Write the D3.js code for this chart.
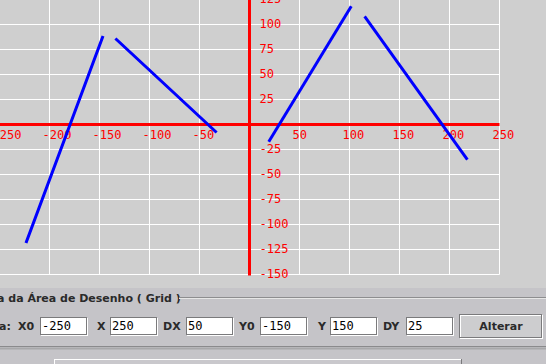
<!DOCTYPE html>
<html>
<head>
<meta charset="utf-8">
<script src="https://cdn.jsdelivr.net/npm/d3@7/dist/d3.min.js"></script>
<style>
	body { margin: 0; overflow: hidden; background: #c5c4c8; }
	svg { display: block; }
	.tick_label { font-family: "DejaVu Sans Mono", monospace; font-size: 12px; fill: #ff0000; }
	.form_label { font-family: "DejaVu Sans", sans-serif; font-weight: bold; font-size: 11px; fill: #2a2a2a; }
	.field_text { font-family: "DejaVu Sans Mono", monospace; font-size: 12px; fill: #000; }
</style>
</head>
<body>
<div id="frame"></div>
<script>
//grid settings (same values that are shown in the form fields)
var x_ticks = [-250, -200, -150, -100, -50, 0, 50, 100, 150, 200, 250];
var y_ticks = [-150, -125, -100, -75, -50, -25, 0, 25, 50, 75, 100, 125, 150];

//segments drawn on the grid
var seg_x1 = [-223, -133, 20, 116];
var seg_y1 = [-117, 85, -16, 107];
var seg_x2 = [-147, -34, 101, 217];
var seg_y2 = [87, -7, 117, -34];

//form row
var field_labels = ["X0", "X", "DX", "Y0", "Y", "DY"];
var field_values = ["-250", "250", "50", "-150", "150", "25"];

var width = 546, height = 364;

var svg = d3.select("#frame").append("svg")
	.attr("width", width)
	.attr("height", height);

//drawing area background
svg.append("rect")
	.attr("x", 0).attr("y", 0)
	.attr("width", width).attr("height", 288)
	.attr("fill", "#cfcfcf");

//panel below it
svg.append("rect")
	.attr("x", 0).attr("y", 288)
	.attr("width", width).attr("height", height - 288)
	.attr("fill", "#c5c4c8");

var x = d3.scaleLinear().domain([-250, 250]).range([-0.5, 499.5]);
var y = d3.scaleLinear().domain([-150, 150]).range([274.5, -25.5]);

var grid = svg.append("g").attr("class", "layer_grid");

grid.selectAll(".vline")
	.data(x_ticks.filter(function(d){ return d != 0; }))
	.enter()
		.append("line")
			.attr("x1", function(d){ return x(d); })
			.attr("x2", function(d){ return x(d); })
			.attr("y1", y(150))
			.attr("y2", y(-150))
			.attr("stroke", "#ffffff")
			.attr("stroke-width", 1);

grid.selectAll(".hline")
	.data(y_ticks.filter(function(d){ return d != 0; }))
	.enter()
		.append("line")
			.attr("x1", x(-250))
			.attr("x2", x(250))
			.attr("y1", function(d){ return y(d); })
			.attr("y2", function(d){ return y(d); })
			.attr("stroke", "#ffffff")
			.attr("stroke-width", 1);

//red axes through the origin
var axes = svg.append("g").attr("class", "layer_axes");

axes.append("line")
	.attr("x1", x(-250)).attr("x2", x(250))
	.attr("y1", y(0)).attr("y2", y(0))
	.attr("stroke", "#ff0000")
	.attr("stroke-width", 3);

axes.append("line")
	.attr("x1", x(0)).attr("x2", x(0))
	.attr("y1", y(150)).attr("y2", y(-150) + 1)
	.attr("stroke", "#ff0000")
	.attr("stroke-width", 3);

axes.selectAll(".xlabel")
	.data(x_ticks.filter(function(d){ return d != 0; }))
	.enter()
		.append("text")
			.attr("class", "tick_label")
			.attr("x", function(d){ return x(d) - 7; })
			.attr("y", y(0) + 14)
			.text(function(d){ return d; });

axes.selectAll(".ylabel")
	.data(y_ticks.filter(function(d){ return d != 0; }))
	.enter()
		.append("text")
			.attr("class", "tick_label")
			.attr("x", x(0) + 10)
			.attr("y", function(d){ return y(d) + 3; })
			.text(function(d){ return d; });

//blue segments on top
svg.append("g").attr("class", "layer_segments")
	.selectAll("line")
	.data(d3.range(seg_x1.length))
	.enter()
		.append("line")
			.attr("x1", function(i){ return x(seg_x1[i]); })
			.attr("y1", function(i){ return y(seg_y1[i]); })
			.attr("x2", function(i){ return x(seg_x2[i]); })
			.attr("y2", function(i){ return y(seg_y2[i]); })
			.attr("stroke", "#0000ff")
			.attr("stroke-width", 3)
			.attr("stroke-linecap", "square");

//titled border of the form
var form = svg.append("g").attr("class", "layer_form");

form.append("text")
	.attr("class", "form_label")
	.attr("x", -3)
	.attr("y", 302)
	.text("a da Área de Desenho ( Grid )");

form.append("line")
	.attr("x1", 179).attr("x2", width)
	.attr("y1", 297.5).attr("y2", 297.5)
	.attr("stroke", "#8d8d8f");
form.append("line")
	.attr("x1", 179).attr("x2", width)
	.attr("y1", 298.5).attr("y2", 298.5)
	.attr("stroke", "#e6e6e6");

form.append("text")
	.attr("class", "form_label")
	.attr("x", -1)
	.attr("y", 330)
	.text("a:");

//positions of labels and fields along the row
var label_x = [18, 97, 163, 239, 318, 383];
var field_x = [40, 110, 186, 260, 330, 406];
var field_w = 48, field_h = 19, field_y = 317;

form.selectAll(".flabel")
	.data(field_labels)
	.enter()
		.append("text")
			.attr("class", "form_label")
			.attr("x", function(d, i){ return label_x[i]; })
			.attr("y", 330)
			.text(function(d){ return d; });

var fields = form.selectAll(".field")
	.data(field_values)
	.enter()
		.append("g")
			.attr("transform", function(d, i){ return "translate(" + field_x[i] + "," + field_y + ")"; });

//flush 3d border: white outline shifted by one, dark outline on top
fields.append("rect")
	.attr("x", 1.5).attr("y", 1.5)
	.attr("width", field_w - 2).attr("height", field_h - 2)
	.attr("fill", "#ffffff")
	.attr("stroke", "#ffffff");
fields.append("rect")
	.attr("x", 0.5).attr("y", 0.5)
	.attr("width", field_w - 2).attr("height", field_h - 2)
	.attr("fill", "none")
	.attr("stroke", "#7a7a7c");
fields.append("text")
	.attr("class", "field_text")
	.attr("x", 2)
	.attr("y", 13)
	.text(function(d){ return d; });

//button
var button = form.append("g").attr("transform", "translate(459,314)");
button.append("rect")
	.attr("x", 1.5).attr("y", 1.5)
	.attr("width", 82).attr("height", 23)
	.attr("fill", "#cdcdcf")
	.attr("stroke", "#ffffff");
button.append("rect")
	.attr("x", 0.5).attr("y", 0.5)
	.attr("width", 82).attr("height", 23)
	.attr("fill", "none")
	.attr("stroke", "#7a7a7c");
button.append("text")
	.attr("class", "form_label")
	.attr("x", 42)
	.attr("y", 16)
	.attr("text-anchor", "middle")
	.text("Alterar");

//separator and the box below
form.append("line")
	.attr("x1", 0).attr("x2", width)
	.attr("y1", 346.5).attr("y2", 346.5)
	.attr("stroke", "#8a8a8c");
form.append("line")
	.attr("x1", 0).attr("x2", width)
	.attr("y1", 348.5).attr("y2", 348.5)
	.attr("stroke", "#a8a8aa")
	.attr("stroke-width", 2);

form.append("rect")
	.attr("x", 54.5).attr("y", 359.5)
	.attr("width", 407).attr("height", 10)
	.attr("fill", "#c9c8cc")
	.attr("stroke", "#ffffff");
form.append("line")
	.attr("x1", 461.5).attr("x2", 461.5)
	.attr("y1", 359).attr("y2", height)
	.attr("stroke", "#7a7a7c");
</script>
</body>
</html>
